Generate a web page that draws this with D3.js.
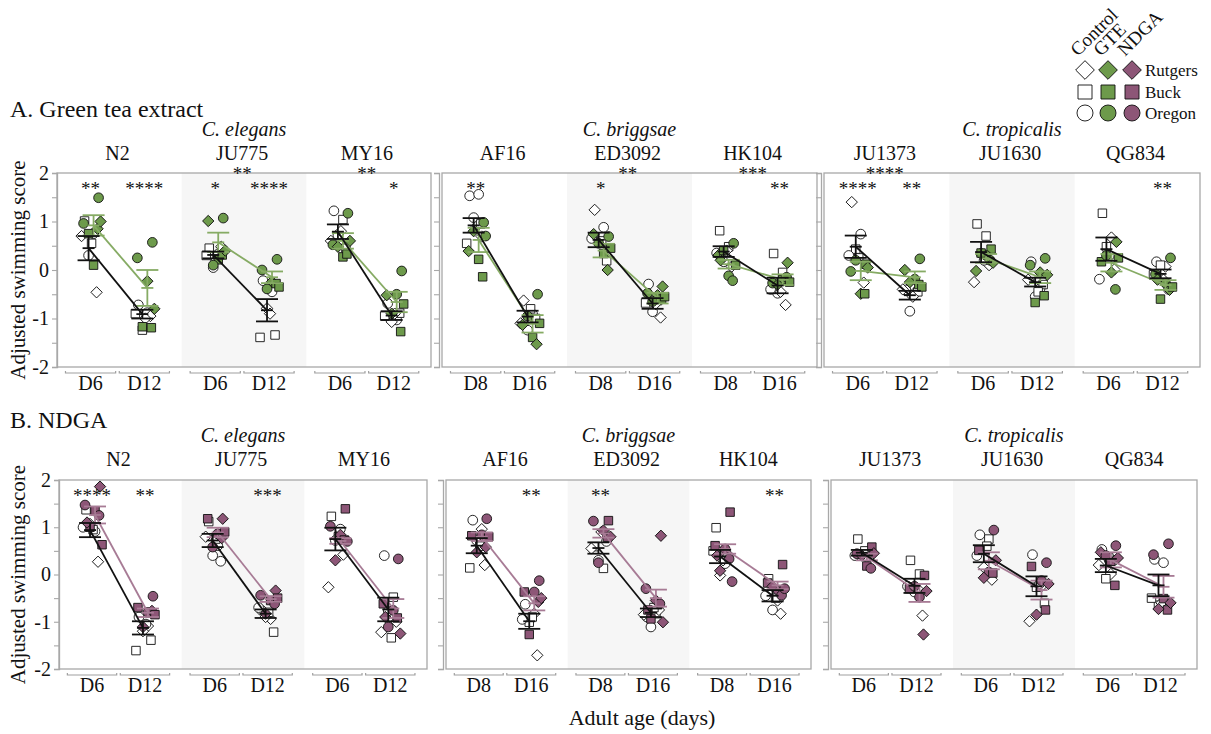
<!DOCTYPE html>
<html>
<head>
<meta charset="utf-8">
<script src="https://cdn.jsdelivr.net/npm/d3@7"></script>
<style>
  body { margin: 0; background: #fff; }
  svg, svg text { font-family: "Liberation Serif", "Times New Roman", serif; fill: #111; }
</style>
</head>
<body>
<svg id="chart" width="1211" height="734"></svg>
<script>
// ---- categories -------------------------------------------------------
const strains = ["N2", "JU775", "MY16", "AF16", "ED3092", "HK104", "JU1373", "JU1630", "QG834"];
const speciesNames = ["C. elegans", "C. briggsae", "C. tropicalis"];
const dayLabels = [["D6", "D12"], ["D8", "D16"], ["D6", "D12"]];
const yTicks = [-2, -1.5, -1, -0.5, 0, 0.5, 1, 1.5, 2];
const labNames = ["Rutgers", "Buck", "Oregon"];
const labCodes = ["R", "B", "O"];
const treatNames = ["Control", "GTE", "NDGA"];

// ---- group means and SEM: [early day, late day] per strain -------------
const gteCtrlMean = [[0.45, -0.91], [0.31, -0.83], [0.79, -0.94], [0.92, -0.96], [0.62, -0.69], [0.38, -0.32], [0.48, -0.52], [0.37, -0.25], [0.43, -0.08]];
const gteCtrlSem  = [[0.25, 0.09], [0.07, 0.23], [0.15, 0.09], [0.15, 0.12], [0.15, 0.11], [0.11, 0.16], [0.23, 0.09], [0.21, 0.09], [0.24, 0.09]];
const gteMean     = [[0.92, -0.37], [0.57, -0.15], [0.60, -0.66], [0.62, -1.11], [0.40, -0.58], [0.12, -0.20], [-0.02, -0.15], [0.24, -0.15], [0.15, -0.31]];
const gteSem      = [[0.21, 0.37], [0.20, 0.12], [0.16, 0.21], [0.25, 0.18], [0.14, 0.11], [0.09, 0.11], [0.19, 0.12], [0.09, 0.12], [0.18, 0.10]];

const ndgaCtrlMean = [[0.94, -1.13], [0.72, -0.83], [0.75, -0.74], [0.61, -0.99], [0.56, -0.81], [0.38, -0.45], [0.46, -0.24], [0.44, -0.25], [0.19, -0.23]];
const ndgaCtrlSem  = [[0.15, 0.14], [0.14, 0.09], [0.24, 0.25], [0.16, 0.16], [0.12, 0.09], [0.14, 0.12], [0.06, 0.15], [0.18, 0.21], [0.14, 0.23]];
const ndgaMean     = [[1.26, -0.81], [0.89, -0.52], [0.71, -0.72], [0.80, -0.61], [0.87, -0.50], [0.54, -0.23], [0.37, -0.39], [0.29, -0.33], [0.31, -0.26]];
const ndgaSem      = [[0.18, 0.09], [0.10, 0.06], [0.06, 0.20], [0.09, 0.15], [0.09, 0.18], [0.10, 0.08], [0.07, 0.19], [0.18, 0.20], [0.16, 0.23]];

// ---- individual replicate scores: [lab, score] per strain and day ------
const gteCtrlPoints = [
  [[["B",1.01],["O",0.75],["O",0.30],["R",-0.46],["R",0.70],["B",0.55]], [["O",-0.72],["O",-0.88],["B",-1.24],["R",-0.95],["B",-0.90],["R",-1.00]]],
  [[["B",0.45],["O",0.33],["O",0.05],["R",0.48],["B",0.30],["R",0.20]], [["O",-0.22],["O",-0.45],["R",-0.79],["B",-1.34],["B",-1.39],["R",-0.90]]],
  [[["O",1.22],["B",1.04],["O",0.72],["B",0.45],["R",0.60],["R",0.80]], [["O",-0.69],["O",-1.03],["R",-1.07],["B",-0.89],["B",-0.95],["R",-0.90]]],
  [[["O",1.53],["O",1.56],["O",1.08],["R",0.69],["B",0.55],["R",0.90],["B",0.95]], [["R",-0.63],["O",-0.91],["O",-1.24],["B",-1.00],["R",-1.10],["B",-0.80]]],
  [[["R",1.24],["O",0.88],["R",0.58],["B",0.19],["O",0.65],["B",0.60]], [["O",-0.29],["B",-0.63],["O",-0.86],["R",-0.98],["B",-0.68],["R",-0.70]]],
  [[["B",0.81],["B",0.48],["O",0.17],["R",0.07],["O",0.35],["R",0.40]], [["B",0.34],["B",-0.05],["O",-0.48],["R",-0.72],["O",-0.40],["R",-0.45]]],
  [[["R",1.40],["O",0.74],["B",0.43],["R",-0.26],["O",0.30],["B",0.25]], [["O",-0.41],["O",-0.48],["O",-0.85],["B",-0.45],["R",-0.40],["R",-0.55]]],
  [[["B",0.95],["B",0.70],["O",0.34],["R",0.10],["R",-0.25],["O",0.20]], [["O",0.17],["O",-0.38],["O",-0.55],["B",-0.30],["R",-0.20],["B",-0.45]]],
  [[["B",1.17],["R",0.67],["B",0.48],["R",0.01],["O",-0.19],["O",0.30]], [["O",0.17],["R",0.07],["B",0.10],["O",-0.40],["B",-0.10],["R",-0.20]]]
];
const gtePoints = [
  [[["O",1.49],["O",0.96],["B",0.10],["R",0.85],["B",0.75],["R",1.00]], [["O",0.57],["O",0.25],["R",-0.23],["B",-1.19],["B",-1.17],["R",-0.80]]],
  [[["O",1.07],["R",1.01],["B",0.21],["B",0.31],["O",0.10],["R",0.40]], [["O",0.22],["O",0.00],["R",-0.24],["B",-0.28],["O",-0.39],["B",-0.35]]],
  [[["O",1.17],["O",0.52],["B",0.27],["B",0.33],["R",0.48],["R",0.60]], [["O",-0.02],["R",-0.52],["O",-0.50],["B",-1.27],["R",-0.90],["B",-0.70]]],
  [[["O",0.98],["R",0.39],["B",0.22],["B",-0.14],["R",0.80],["O",0.70]], [["O",-0.50],["R",-1.13],["B",-1.39],["R",-1.53],["O",-0.95],["B",-1.10]]],
  [[["O",0.69],["R",0.74],["B",0.34],["R",0.00],["O",0.55],["B",0.45]], [["R",-0.34],["O",-0.48],["R",-0.52],["B",-0.60],["O",-0.65],["B",-0.55]]],
  [[["O",0.55],["R",0.31],["O",-0.12],["O",-0.22],["B",0.40],["B",0.10],["R",0.20]], [["R",0.15],["O",-0.27],["B",-0.20],["O",-0.15],["R",-0.30],["B",-0.25]]],
  [[["B",0.12],["O",-0.03],["R",-0.49],["B",-0.49],["O",0.20],["R",0.05]], [["O",0.23],["R",0.00],["O",-0.19],["B",-0.30],["R",-0.25],["B",-0.35]]],
  [[["B",0.43],["R",-0.02],["O",0.30],["O",0.20],["B",0.35],["R",0.15]], [["O",0.24],["O",0.10],["R",-0.05],["B",-0.53],["B",-0.67],["R",-0.10]]],
  [[["R",0.58],["B",0.17],["R",-0.05],["O",-0.40],["O",0.30],["B",0.25]], [["O",0.25],["O",-0.09],["O",-0.27],["R",-0.41],["B",-0.60],["B",-0.35],["R",-0.20]]]
];
const ndgaCtrlPoints = [
  [[["B",1.37],["O",0.91],["R",1.07],["R",0.27],["O",1.00],["B",0.95]], [["O",-0.90],["R",-1.09],["R",-1.20],["B",-1.39],["B",-1.61],["O",-1.05]]],
  [[["B",1.12],["O",0.61],["O",0.40],["O",0.28],["R",0.80],["B",0.75]], [["O",-0.76],["R",-0.94],["R",-0.90],["B",-1.22],["O",-0.70],["B",-0.80]]],
  [[["B",1.23],["O",0.96],["O",0.72],["R",0.42],["R",-0.27],["B",0.80]], [["O",0.40],["B",-0.48],["O",-0.77],["R",-1.00],["R",-1.22],["B",-1.34]]],
  [[["O",1.15],["R",0.96],["O",0.72],["R",0.20],["B",0.14],["B",0.60]], [["O",-0.63],["R",-0.83],["B",-1.01],["R",-1.71],["O",-0.95],["B",-0.90]]],
  [[["B",0.59],["B",0.13],["O",0.30],["O",0.70],["R",0.55],["R",0.90]], [["O",-0.90],["B",-0.83],["O",-1.11],["R",-0.75],["R",-0.85],["B",-0.70]]],
  [[["B",0.99],["O",0.23],["R",-0.02],["O",0.40],["B",0.50],["R",0.30]], [["B",-0.09],["R",-0.55],["O",-0.75],["R",-0.83],["O",-0.45],["B",-0.50]]],
  [[["B",0.75],["O",0.37],["R",0.45],["R",0.50],["O",0.40],["B",0.50]], [["B",0.30],["B",0.01],["O",-0.37],["R",-0.87],["O",-0.25],["R",-0.30]]],
  [[["O",0.84],["B",0.75],["R",0.15],["R",-0.11],["O",0.40],["B",0.60]], [["O",0.42],["R",-0.25],["B",-0.27],["B",-0.61],["R",-0.99],["O",-0.20]]],
  [[["O",0.53],["R",0.01],["B",-0.09],["O",0.30],["R",0.20],["B",0.35]], [["O",0.32],["O",0.25],["B",-0.65],["R",-0.58],["B",-0.50],["R",-0.60]]]
];
const ndgaPoints = [
  [[["R",1.86],["O",1.47],["B",1.35],["O",1.25],["B",1.00],["B",0.63],["R",1.10]], [["O",-0.46],["B",-0.70],["O",-0.80],["R",-0.77],["R",-1.11],["B",-0.85]]],
  [[["R",1.18],["B",1.18],["O",0.86],["R",0.77],["O",0.58],["B",0.90]], [["R",-0.34],["O",-0.44],["B",-0.55],["O",-0.62],["R",-0.83],["B",-0.50]]],
  [[["B",1.39],["O",1.02],["R",0.84],["B",0.73],["R",0.30],["O",0.70]], [["O",0.33],["B",-0.62],["O",-0.76],["B",-0.92],["O",-1.11],["R",-1.25],["R",-0.90]]],
  [[["O",1.18],["B",0.82],["O",0.84],["R",0.58],["R",0.47],["B",0.80]], [["O",-0.13],["B",-0.37],["O",-0.37],["R",-0.58],["B",-1.27],["R",-0.50]]],
  [[["B",1.14],["O",1.13],["R",0.93],["B",0.79],["O",0.25],["R",0.80]], [["R",0.82],["O",-0.30],["R",-0.55],["O",-0.62],["B",-0.94],["R",-1.01],["B",-0.75]]],
  [[["B",1.32],["B",0.61],["O",0.54],["O",0.33],["R",0.08],["O",-0.15],["R",0.40]], [["B",0.21],["B",-0.18],["R",-0.34],["O",-0.44],["R",-0.25],["O",-0.30]]],
  [[["B",0.58],["O",0.44],["B",0.18],["O",0.13],["R",0.40],["R",0.45]], [["B",-0.02],["B",-0.30],["O",-0.48],["R",-1.27],["O",-0.25],["R",-0.35]]],
  [[["O",0.94],["B",0.51],["O",0.05],["B",0.03],["R",-0.07],["R",0.30]], [["O",0.25],["B",0.17],["O",-0.13],["B",-0.75],["R",-0.85],["R",-0.20]]],
  [[["O",0.61],["R",0.47],["B",0.28],["B",-0.23],["O",0.40],["R",0.35]], [["O",0.65],["O",0.42],["B",-0.51],["B",-0.75],["R",-0.73],["R",-0.60]]]
];

// ---- significance marks: [early day, late day, age x treatment] ---------
const gteStars  = [["**","****",""], ["*","****","**"], ["","*","**"], ["**","",""], ["*","","**"], ["","**","***"], ["****","**","****"], ["","",""], ["","**",""]];
const ndgaStars = [["****","**",""], ["","***",""], ["","",""], ["","**",""], ["**","",""], ["","**",""], ["","",""], ["","",""], ["","",""]];

// ---- layout and styling ----------------------------------------------
const SERIF = "'Liberation Serif', 'Times New Roman', serif";
const GREEN = "#6d9a4b", GREEN_LINE = "#86ab64";
const MAUVE = "#8d5677", MAUVE_LINE = "#a77b95";
const FRAME = "#a8a8a8";
const jitter = [-5, 4, -1, 7, -8, 2, 6, -3, 9, -6];

const panels = [
  { title: "A. Green tea extract", fill: GREEN, line: GREEN_LINE,
    ctrlPts: gteCtrlPoints, trtPts: gtePoints, ctrlMean: gteCtrlMean, ctrlSem: gteCtrlSem,
    trtMean: gteMean, trtSem: gteSem, stars: gteStars,
    titleY: 117, speciesY: 136, strainY: 160, top: 173, bottom: 367,
    boxes: [[57, 431], [442, 817], [824, 1200]] },
  { title: "B. NDGA", fill: MAUVE, line: MAUVE_LINE,
    ctrlPts: ndgaCtrlPoints, trtPts: ndgaPoints, ctrlMean: ndgaCtrlMean, ctrlSem: ndgaCtrlSem,
    trtMean: ndgaMean, trtSem: ndgaSem, stars: ndgaStars,
    titleY: 428, speciesY: 442, strainY: 466, top: 480, bottom: 669,
    boxes: [[59, 427], [446, 811], [831, 1197]] }
];

const svg = d3.select("#chart").style("font-family", SERIF);

// Marker shapes per lab: diamond (Rutgers), square (Buck), circle (Oregon)
function drawMarker(sel, lab, x, y, fill, scale) {
  const k = scale || 1;
  let path, rot = 0;
  if (lab === "R") { path = d3.symbol(d3.symbolSquare, 64 * k * k)(); rot = 45; }
  else if (lab === "B") { path = d3.symbol(d3.symbolSquare, 72 * k * k)(); }
  else { path = d3.symbol(d3.symbolCircle, 74 * k * k)(); }
  sel.append("path")
    .attr("d", path)
    .attr("transform", `translate(${x},${y}) rotate(${rot})`)
    .attr("fill", fill)
    .attr("stroke", "#111")
    .attr("stroke-width", 0.9);
}

function errorBar(g, x, yScale, m, s, color) {
  g.append("line").attr("x1", x).attr("x2", x).attr("y1", yScale(m - s)).attr("y2", yScale(m + s))
    .attr("stroke", color).attr("stroke-width", 1.8);
  [m - s, m + s].forEach(v => {
    g.append("line").attr("x1", x - 11).attr("x2", x + 11).attr("y1", yScale(v)).attr("y2", yScale(v))
      .attr("stroke", color).attr("stroke-width", 1.8);
  });
  g.append("line").attr("x1", x - 6).attr("x2", x + 6).attr("y1", yScale(m)).attr("y2", yScale(m))
    .attr("stroke", color).attr("stroke-width", 1.8);
}

function label(g, x, y, txt, size, opts) {
  const o = opts || {};
  return g.append("text").attr("x", x).attr("y", y)
    .attr("text-anchor", o.anchor || "middle")
    .style("font-family", SERIF).style("font-size", size + "px")
    .style("font-style", o.italic ? "italic" : "normal")
    .attr("fill", o.fill || "#111").text(txt);
}

panels.forEach(p => {
  const y = d3.scaleLinear().domain([-2, 2]).range([p.bottom, p.top]);
  const g = svg.append("g");

  label(g, 10, p.titleY, p.title, 24, { anchor: "start" });
  g.append("text")
    .attr("transform", `translate(25,${(p.top + p.bottom) / 2}) rotate(-90)`)
    .attr("text-anchor", "middle").style("font-family", SERIF).style("font-size", "21px")
    .text("Adjusted swimming score");

  p.boxes.forEach((bx, bi) => {
    const sx = d3.scaleBand().domain([0, 1, 2]).range(bx);
    const w = sx.bandwidth();

    // shaded middle strain
    g.append("rect").attr("x", sx(1)).attr("y", p.top).attr("width", w)
      .attr("height", p.bottom - p.top).attr("fill", "#f6f6f6");
    // frame
    g.append("rect").attr("x", bx[0]).attr("y", p.top).attr("width", bx[1] - bx[0])
      .attr("height", p.bottom - p.top).attr("fill", "none")
      .attr("stroke", FRAME).attr("stroke-width", 1.3);

    // y axis
    const axis = d3.axisLeft(y).tickValues(yTicks).tickSize(5).tickPadding(3)
      .tickFormat(d => (bi === 0 && Number.isInteger(d)) ? String(d) : "");
    const ag = g.append("g").attr("transform", `translate(${bi === 0 ? bx[0] : bx[0] - 3},0)`).call(axis);
    ag.attr("font-family", SERIF);
    ag.select(".domain").attr("stroke", FRAME).attr("stroke-width", 1.3);
    ag.selectAll(".tick line").attr("stroke", FRAME).attr("stroke-width", 1.1);
    ag.selectAll(".tick text").style("font-size", "20px").attr("fill", "#111").style("font-family", SERIF);

    // species label
    label(g, (bx[0] + bx[1]) / 2, p.speciesY, speciesNames[bi], 20, { italic: true });

    [0, 1, 2].forEach(si => {
      const k = bi * 3 + si;
      const s0 = sx(si);
      const dx = d3.scaleBand().domain([0, 1]).range([s0 + 0.06 * w, s0 + 0.91 * w]).paddingInner(0.03);
      const dc = d => dx(d) + dx.bandwidth() / 2;
      const midX = s0 + 0.485 * w;

      label(g, midX, p.strainY, strains[k], 20);

      // day brackets and labels
      [0, 1].forEach(d => {
        const by = p.bottom + 6, x0 = dx(d) + 1, x1 = dx(d) + dx.bandwidth() - 1;
        g.append("path").attr("d", `M${x0},${by - 2}V${by}H${x1}V${by - 2}`)
          .attr("fill", "none").attr("stroke", "#a0a0a0").attr("stroke-width", 1.2);
        label(g, dc(d), p.bottom + 23, dayLabels[bi][d], 20);
      });

      // replicate points
      const pg = g.append("g");
      [0, 1].forEach(d => {
        p.ctrlPts[k][d].forEach((pt, i) => drawMarker(pg, pt[0], dc(d) - 1 + jitter[i % jitter.length], y(pt[1]), "#fff"));
        p.trtPts[k][d].forEach((pt, i) => drawMarker(pg, pt[0], dc(d) + 1 + jitter[(i + 3) % jitter.length], y(pt[1]), p.fill));
      });

      // treatment mean ± SEM and trajectory
      const lg = g.append("g");
      lg.append("line").attr("x1", dc(0) + 3).attr("x2", dc(1) + 3)
        .attr("y1", y(p.trtMean[k][0])).attr("y2", y(p.trtMean[k][1]))
        .attr("stroke", p.line).attr("stroke-width", 1.8);
      [0, 1].forEach(d => errorBar(lg, dc(d) + 3, y, p.trtMean[k][d], p.trtSem[k][d], p.line));
      // control mean ± SEM and trajectory
      lg.append("line").attr("x1", dc(0) - 2).attr("x2", dc(1) - 2)
        .attr("y1", y(p.ctrlMean[k][0])).attr("y2", y(p.ctrlMean[k][1]))
        .attr("stroke", "#111").attr("stroke-width", 1.8);
      [0, 1].forEach(d => errorBar(lg, dc(d) - 2, y, p.ctrlMean[k][d], p.ctrlSem[k][d], "#111"));

      // significance marks
      const st = p.stars[k];
      [0, 1].forEach(d => { if (st[d]) label(g, dc(d), p.top + 22, st[d], 19, { fill: "#333" }); });
      if (st[2]) label(g, midX, p.top + 7, st[2], 19, { fill: "#333" });
    });
  });
});

// x axis title
label(svg, 642, 725, "Adult age (days)", 22);

// legend: columns = treatment, rows = lab
const legend = svg.append("g");
const legCols = [1085, 1108, 1132];
const legRows = [70, 92, 113];
const legFills = ["#fff", GREEN, MAUVE];
treatNames.forEach((t, c) => {
  legend.append("text").attr("transform", `translate(${legCols[c] - 7},${57}) rotate(-45)`)
    .style("font-family", SERIF).style("font-size", "19px").text(t);
});
labCodes.forEach((lab, r) => {
  legFills.forEach((f, c) => drawMarker(legend, lab, legCols[c], legRows[r], f, 1.65));
  label(legend, 1145, legRows[r] + 6, labNames[r], 17, { anchor: "start" });
});
</script>
</body>
</html>
